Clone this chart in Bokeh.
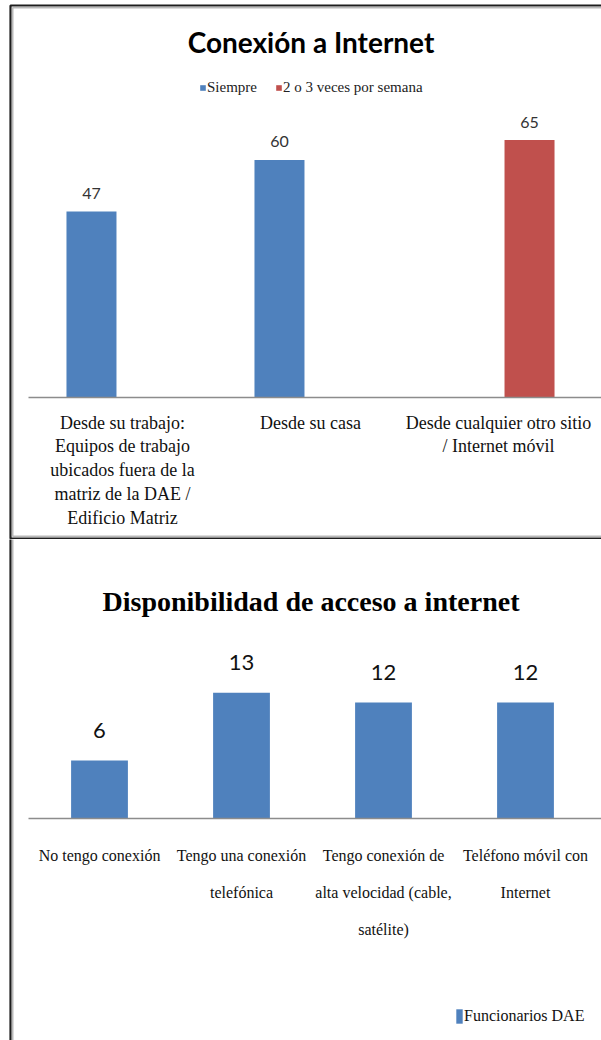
from bokeh.plotting import figure
from bokeh.layouts import column
from bokeh.models import (ColumnDataSource, Range1d, BoxAnnotation, Label,
                          Legend, LegendItem)
from bokeh.core.properties import value
from bokeh.embed import file_html
from bokeh.resources import INLINE

# ---- Chart 1: Conexión a Internet ----
conn_title = "Conexión a Internet"
conn_places = [
    "Desde su trabajo:\nEquipos de trabajo\nubicados fuera de la\nmatriz de la DAE /\nEdificio Matriz",
    "Desde su casa",
    "Desde cualquier otro sitio\n/ Internet móvil",
]
conn_series = ["Siempre", "2 o 3 veces por semana"]
conn_siempre = [47, 60, 0]
conn_semana = [0, 0, 65]

# ---- Chart 2: Disponibilidad de acceso a internet ----
avail_title = "Disponibilidad de acceso a internet"
avail_options = [
    "No tengo conexión",
    "Tengo una conexión\ntelefónica",
    "Tengo conexión de\nalta velocidad (cable,\nsatélite)",
    "Teléfono móvil con\nInternet",
]
avail_series = "Funcionarios DAE"
avail_counts = [6, 13, 12, 12]

BLUE = "#4F81BD"
RED = "#C0504D"
SERIF = "Liberation Serif"
SANS = "Lato"
W = 601


class Panel:
    """One boxed chart: frame fills the canvas; pixel layout helpers map to data space."""

    def __init__(self, height, base_px, px_per_unit, first_center_px, band_px):
        self.h = height
        self.base = base_px
        self.k = px_per_unit
        self.c0 = first_center_px
        self.band = band_px
        self.p = figure(width=W, height=height,
                        x_range=Range1d(self.vx(0), self.vx(W)),
                        y_range=Range1d(self.vy(height), self.vy(0)),
                        x_axis_location=None, y_axis_location=None,
                        toolbar_location=None, output_backend="svg",
                        min_border=0, outline_line_color=None)
        self.p.grid.visible = False
        self.p.background_fill_color = "white"
        self.p.border_fill_color = "white"

    def vx(self, px):
        return (px - self.c0) / self.band

    def vy(self, py):
        return (self.base - py) / self.k

    def border(self, left, right, top, bottom):
        for off, color, lw in ((0, "#1e1e1e", 2.2), (2.2, "#b9b9b9", 1.6)):
            self.p.add_layout(BoxAnnotation(
                left=self.vx(left + off), right=self.vx(right - off),
                top=self.vy(top + off), bottom=self.vy(bottom - off),
                fill_alpha=0, line_color=color, line_alpha=1.0, line_width=lw))

    def baseline(self):
        # category axis line along value 0, from the first band's left edge
        self.p.segment(x0=[-0.5], y0=[0], x1=[self.vx(W)], y1=[0],
                       line_color="#8c8c8c", line_width=1.3)

    def category_labels(self, labels, top_px, size, line_height):
        src = ColumnDataSource(dict(x=list(range(len(labels))), t=labels))
        self.p.text(x="x", y=self.vy(top_px), text="t", source=src,
                    text_align="center", text_baseline="top",
                    text_font=value(SERIF), text_font_size=size,
                    text_line_height=line_height, text_color="#111111")

    def title(self, text, center_y, font, size):
        self.p.add_layout(Label(x=self.vx(W / 2 + 10), y=self.vy(center_y), text=text,
                                text_align="center", text_baseline="middle",
                                text_font=font, text_font_style="bold",
                                text_font_size=size, text_color="black"))


# ---------------- top chart ----------------
H1 = 539
c1 = Panel(H1, base_px=397, px_per_unit=3.96, first_center_px=122, band_px=188)
p1 = c1.p
off = 0.165
idx = list(range(len(conn_places)))
src1 = ColumnDataSource(dict(
    xs=[i - off for i in idx], xw=[i + off for i in idx],
    siempre=conn_siempre, semana=conn_semana))
r_s = p1.vbar(x="xs", top="siempre", width=0.266, source=src1,
              fill_color=BLUE, line_color=None)
r_w = p1.vbar(x="xw", top="semana", width=0.266, source=src1,
              fill_color=RED, line_color=None)

for vals, shift in ((conn_siempre, -off), (conn_semana, off)):
    keep = [(i, v) for i, v in zip(idx, vals) if v]
    s = ColumnDataSource(dict(x=[i + shift for i, _ in keep], v=[v for _, v in keep],
                              t=[str(v) for _, v in keep]))
    p1.text(x="x", y="v", text="t", source=s, y_offset=-18,
            text_align="center", text_baseline="middle",
            text_font=value(SANS), text_font_size="16px", text_color="#333333")

c1.baseline()
c1.category_labels(conn_places, 412, "18px", 1.19)
c1.title(conn_title, 41, SANS, "28px")

leg1 = Legend(items=[LegendItem(label=conn_series[0], renderers=[r_s]),
                     LegendItem(label=conn_series[1], renderers=[r_w])],
              orientation="horizontal", location=(199, H1 - 96),
              glyph_width=7, glyph_height=7, label_standoff=1, spacing=18,
              padding=0, margin=0, border_line_color=None, background_fill_alpha=0,
              label_text_font=SERIF, label_text_font_size="15px",
              label_text_color="#222222", label_height=14, label_width=10)
p1.add_layout(leg1, "center")
c1.border(10, 640, 5, 538)

# ---------------- bottom chart ----------------
H2 = 1040 - H1
c2 = Panel(H2, base_px=818 - H1, px_per_unit=9.67, first_center_px=99, band_px=142)
p2 = c2.p
src2 = ColumnDataSource(dict(x=list(range(len(avail_options))), n=avail_counts,
                             t=[str(v) for v in avail_counts]))
r_f = p2.vbar(x="x", top="n", width=0.4, source=src2, fill_color=BLUE, line_color=None)
p2.text(x="x", y="n", text="t", source=src2, y_offset=-30,
        text_align="center", text_baseline="middle",
        text_font=value(SANS), text_font_size="22px", text_color="#111111")

c2.baseline()
c2.category_labels(avail_options, 846 - H1, "16px", 2.18)
c2.title(avail_title, 601 - H1, SERIF, "28px")

leg2 = Legend(items=[LegendItem(label=avail_series, renderers=[r_f])],
              location=(455, H2 - (1026 - H1)),
              glyph_width=8, glyph_height=18, label_standoff=1,
              padding=0, margin=0, border_line_color=None, background_fill_alpha=0,
              label_text_font=SERIF, label_text_font_size="16px",
              label_text_color="#111111", label_height=20)
p2.add_layout(leg2, "center")
c2.border(10, 640, -20, 560)

layout = column(p1, p2, spacing=0)
open("out.html", "w").write(file_html(layout, INLINE))
